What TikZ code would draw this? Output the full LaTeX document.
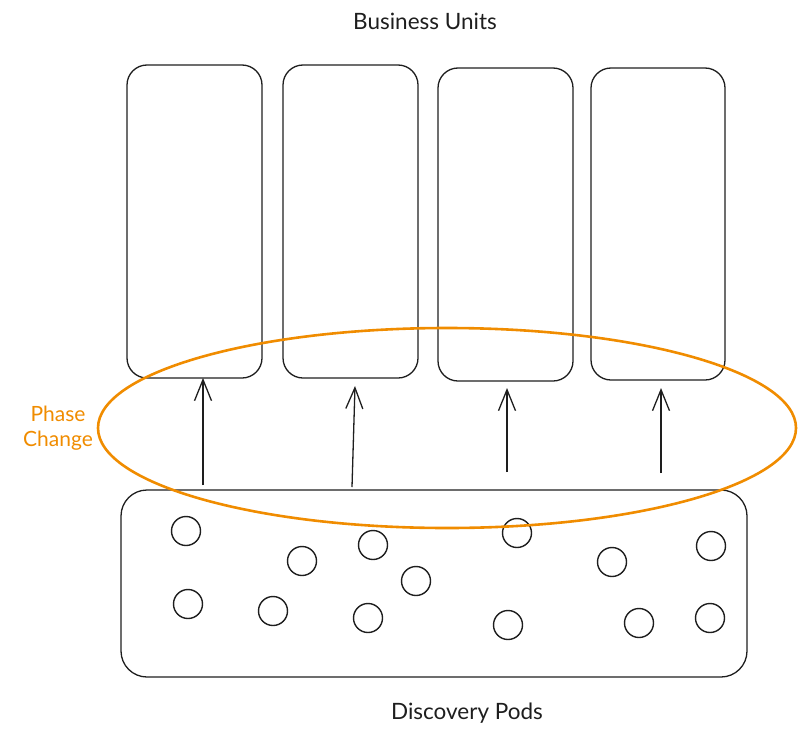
\documentclass[tikz,border=0pt]{standalone}
\usepackage{fontspec}
\setmainfont{Lato}
\usetikzlibrary{arrows.meta,shapes.geometric}
\definecolor{ink}{HTML}{1E1E1E}
\definecolor{orng}{HTML}{F08C00}
\tikzset{
  unitbox/.style={draw=ink, line width=1.3pt, rounded corners=20pt},
  podbox/.style={draw=ink, line width=1.3pt, rounded corners=26pt},
  pod/.style={draw=ink, line width=1.4pt, circle, minimum size=29pt, inner sep=0pt},
  flow/.style={draw=ink, line width=1.3pt, -{Straight Barb[length=21pt,width=17pt,line width=1.3pt]}},
  lbl/.style={text=ink, font=\fontsize{22.5}{26}\selectfont},
  phase/.style={draw=orng, line width=2.6pt},
}
\begin{document}
\begin{tikzpicture}[x=1pt,y=-1pt]
\useasboundingbox (0,0) rectangle (805,736);
% business units
\node[unitbox, minimum width=135pt, minimum height=313pt] (u1) at (194.5,221.5) {};
\node[unitbox, minimum width=135pt, minimum height=313pt] (u2) at (350.5,221.5) {};
\node[unitbox, minimum width=135pt, minimum height=313pt] (u3) at (505.5,224.5) {};
\node[unitbox, minimum width=134pt, minimum height=312pt] (u4) at (658,224) {};
\node[lbl] (title) at (425,21) {Business Units};
% discovery pods box
\node[podbox, minimum width=626pt, minimum height=187pt] (pods) at (434,583.5) {};
\node[lbl] (podlbl) at (467,713) {Discovery Pods};
% pods
\foreach \n/\x/\y in {p1/186/531, p2/302/561, p3/373/545, p4/416/581, p5/517/533, p6/612/562, p7/711/546,
  p8/188/604, p9/273/611, p10/368/618, p11/508/625, p12/639/623, p13/710/618}
  \node[pod] (\n) at (\x,\y) {};
% phase change ellipse
\node[phase, ellipse, minimum width=698pt, minimum height=200pt, inner sep=0pt] (ell) at (447,428) {};
\node[text=orng, font=\fontsize{21}{25}\selectfont, align=center] (phaselbl) at (58,428) {Phase\\Change};
% arrows
\coordinate (a1) at (203,485);
\coordinate (a2) at (352,487);
\coordinate (a3) at (507,472);
\coordinate (a4) at (661,473);
\coordinate (b1) at (203,378);
\coordinate (b2) at (355,386);
\coordinate (b3) at (507,388);
\coordinate (b4) at (661,388);
\draw[flow] (a1) -- (b1);
\draw[flow] (a2) -- (b2);
\draw[flow] (a3) -- (b3);
\draw[flow] (a4) -- (b4);
\end{tikzpicture}
\end{document}
